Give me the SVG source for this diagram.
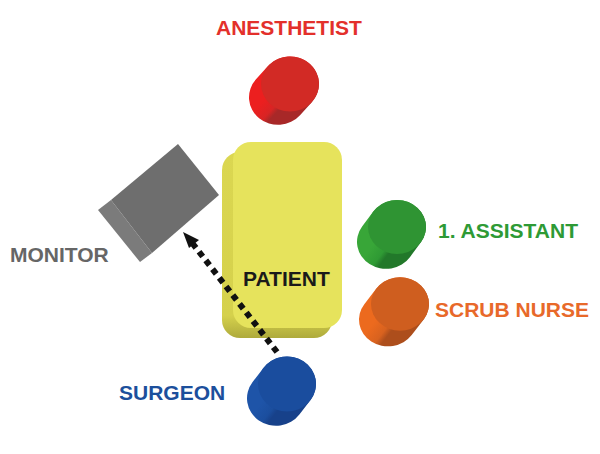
<svg xmlns="http://www.w3.org/2000/svg" width="600" height="454" viewBox="0 0 600 454">
<defs>
<linearGradient id="gRed" x1="0" y1="0" x2="1" y2="1"><stop offset="0" stop-color="#ec1f1f"/><stop offset="0.7" stop-color="#d82424"/><stop offset="1" stop-color="#a82828"/></linearGradient>
<linearGradient id="gGreen" x1="0" y1="0" x2="1" y2="1"><stop offset="0" stop-color="#38a638"/><stop offset="0.7" stop-color="#2f9a34"/><stop offset="1" stop-color="#22782a"/></linearGradient>
<linearGradient id="gOrange" x1="0" y1="0" x2="1" y2="1"><stop offset="0" stop-color="#ec6a1e"/><stop offset="0.7" stop-color="#d8621f"/><stop offset="1" stop-color="#ad4e1c"/></linearGradient>
<linearGradient id="gBlue" x1="0" y1="0" x2="1" y2="1"><stop offset="0" stop-color="#1e54a8"/><stop offset="0.7" stop-color="#1b4e9e"/><stop offset="1" stop-color="#17418a"/></linearGradient>
<linearGradient id="gBed" x1="0" y1="0" x2="0" y2="1"><stop offset="0" stop-color="#dbd751"/><stop offset="0.88" stop-color="#d5d14c"/><stop offset="1" stop-color="#aeaa3c"/></linearGradient>
</defs>
<style>
text{font-family:"Liberation Sans",Arial,sans-serif;font-weight:bold;font-size:21px}
</style>
<g id="patient">
<rect x="222" y="152" width="110" height="186" rx="18" fill="url(#gBed)"/>
<rect x="233" y="142" width="109" height="186" rx="18" fill="#e6e35c"/>
<text x="243" y="286" fill="#1a1a1a" font-size="20.5">PATIENT</text>
</g>
<g id="monitor">
<polygon points="98,210 111,200 152,253 140,262" fill="#7b7b7b"/>
<polygon points="111,200 178,144 219,195 152,253" fill="#6e6e6e"/>
<text x="10" y="262" fill="#666666">MONITOR</text>
</g>
<g id="anesthetist">
<g transform="translate(290,84) scale(1,0.95)"><line x1="-12" y1="14" x2="0" y2="0" stroke="url(#gRed)" stroke-width="58" stroke-linecap="round"/><circle r="29" fill="#d22a25"/></g>
<text x="216" y="35" fill="#e3302b">ANESTHETIST</text>
</g>
<g id="assistant">
<g transform="translate(397,227) scale(1,0.93)"><line x1="-11" y1="16" x2="0" y2="0" stroke="url(#gGreen)" stroke-width="58" stroke-linecap="round"/><circle r="29" fill="#2f9433"/></g>
<text x="438" y="238" fill="#2e9a35">1. ASSISTANT</text>
</g>
<g id="scrubnurse">
<g transform="translate(400,304) scale(1,0.92)"><line x1="-12" y1="17" x2="0" y2="0" stroke="url(#gOrange)" stroke-width="58" stroke-linecap="round"/><circle r="29" fill="#cf5e1f"/></g>
<text x="435" y="317" fill="#e8692a">SCRUB NURSE</text>
</g>
<g id="surgeon">
<g transform="translate(287,384) scale(1,0.95)"><line x1="-11" y1="15" x2="0" y2="0" stroke="url(#gBlue)" stroke-width="58" stroke-linecap="round"/><circle r="29" fill="#1a4d9e"/></g>
<text x="119" y="400" fill="#1c4f9c" font-size="20">SURGEON</text>
</g>
<g id="connectors">
<line x1="277" y1="352" x2="193" y2="244" stroke="#111" stroke-width="6" stroke-dasharray="6 5"/>
<polygon points="183,232 199,240 189,248" fill="#111"/>
</g>
</svg>
